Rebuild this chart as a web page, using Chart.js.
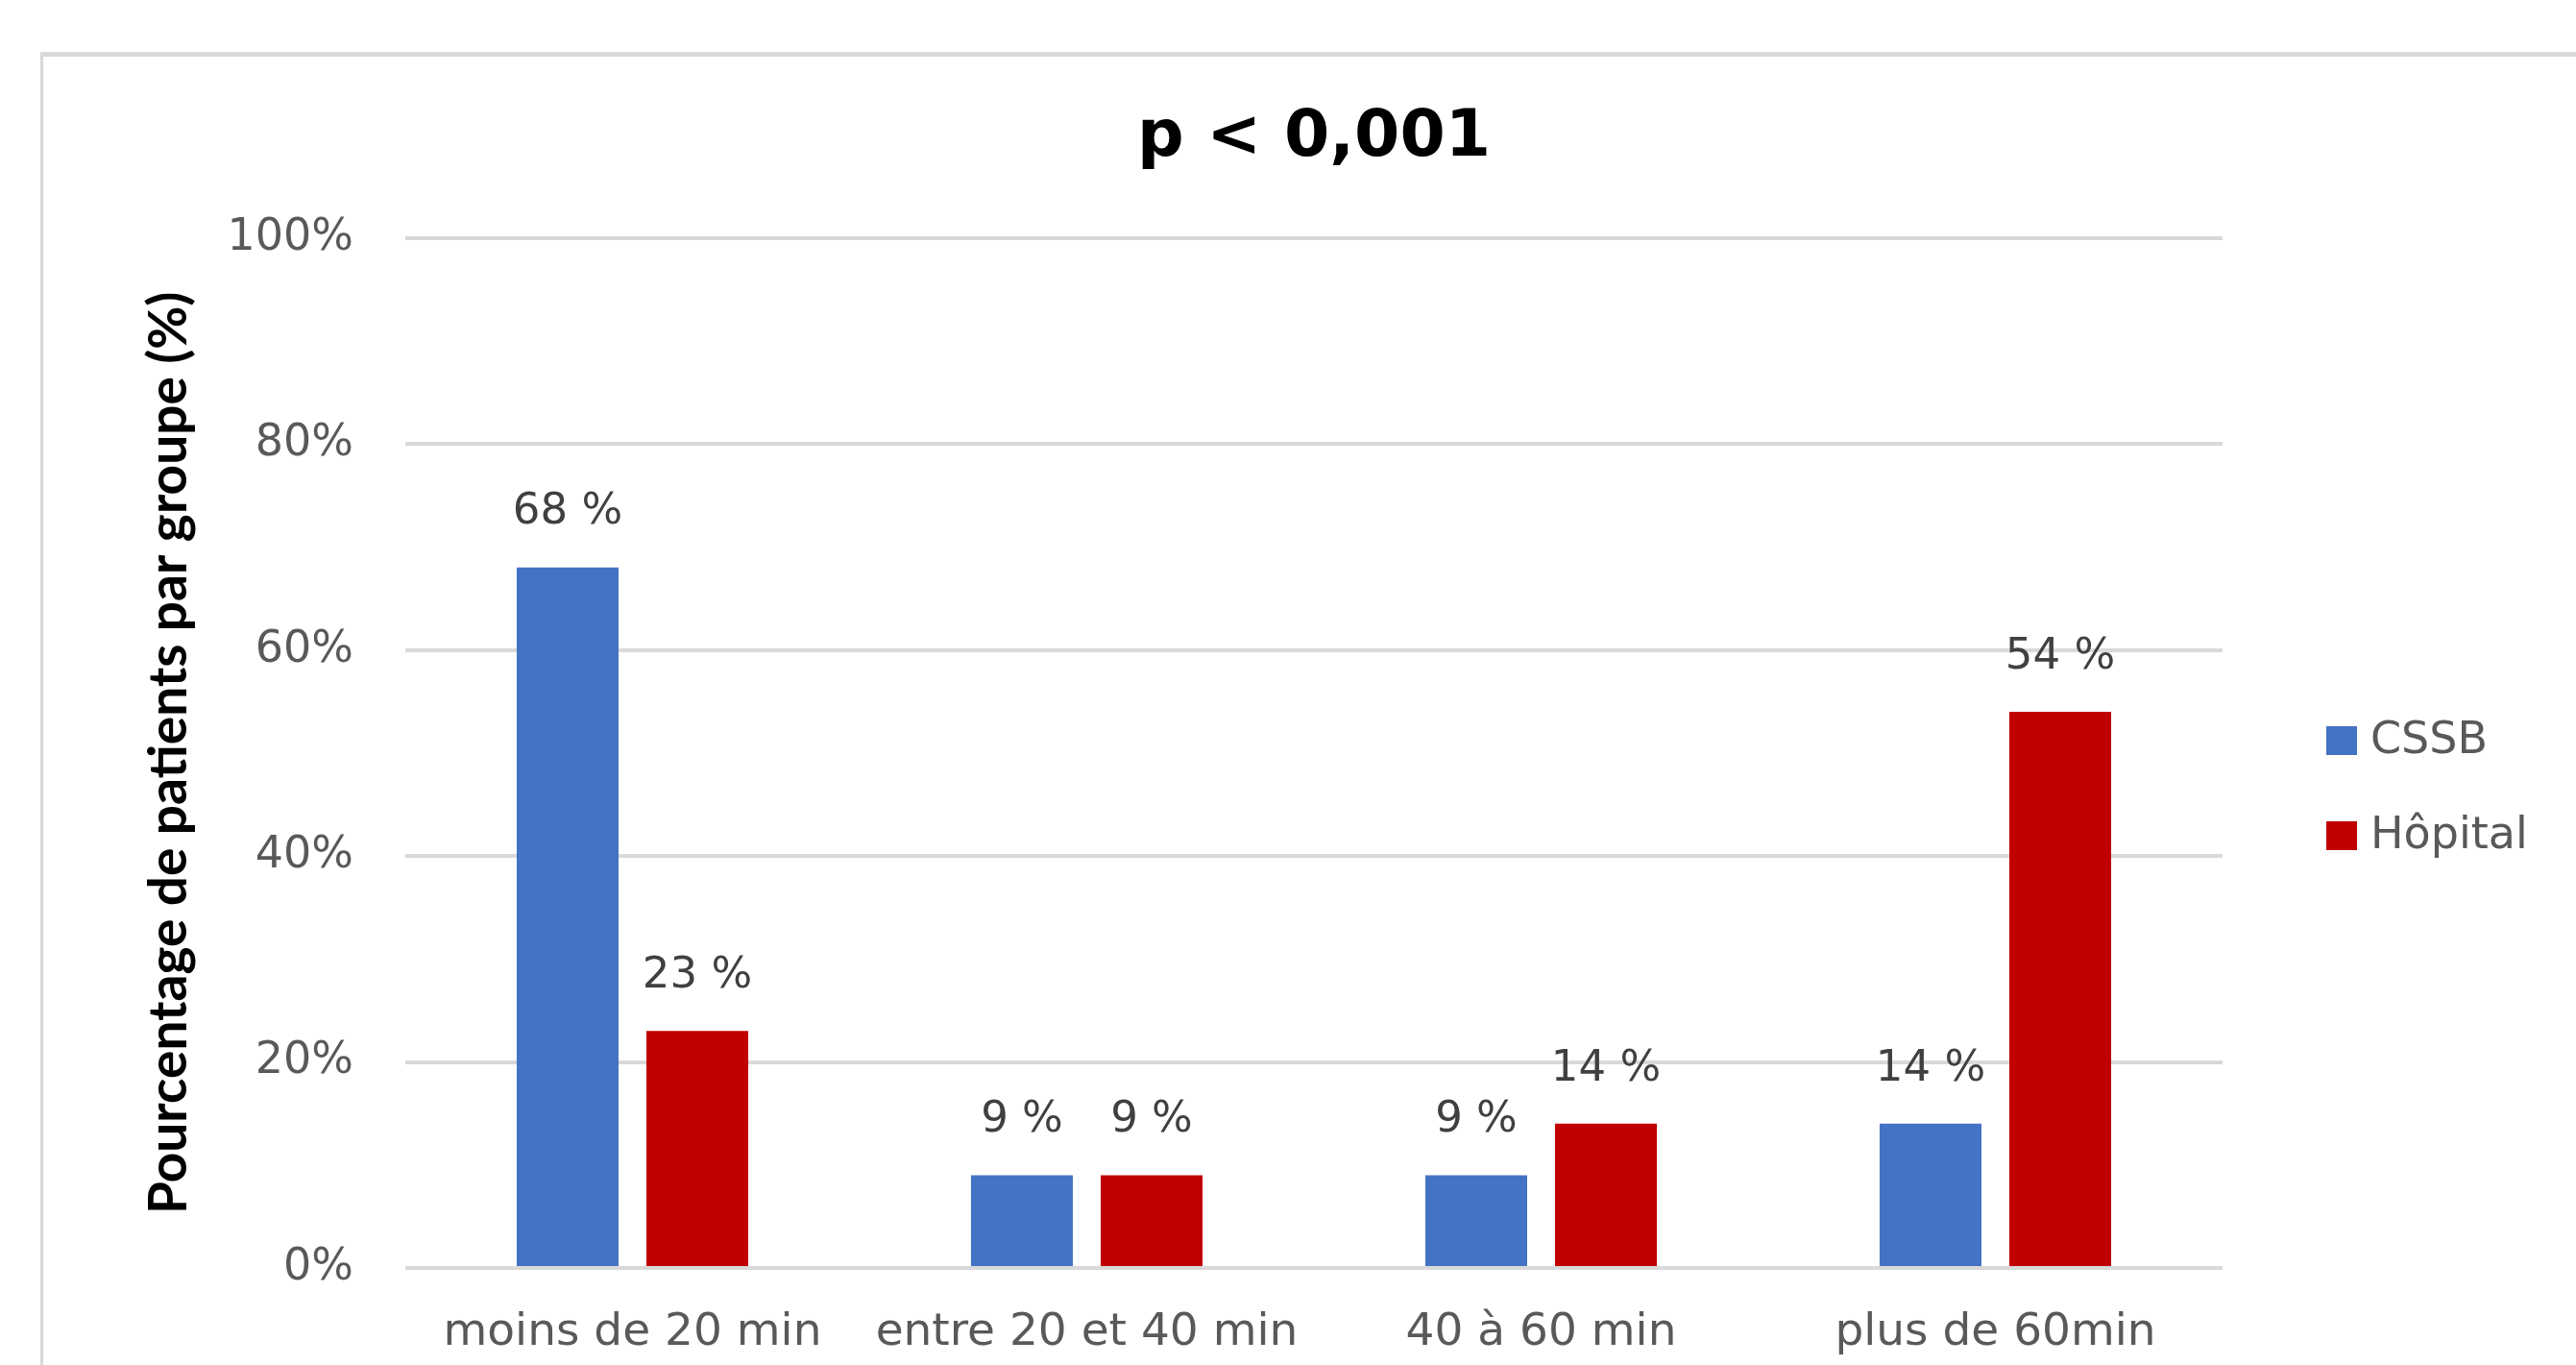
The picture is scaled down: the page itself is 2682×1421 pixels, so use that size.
<!DOCTYPE html>
<html lang="fr">
<head>
<meta charset="utf-8">
<title>Délai d'accès aux soins par groupe</title>
<script src="https://cdn.jsdelivr.net/npm/chart.js@4.4.1/dist/chart.umd.min.js"></script>
<style>
  html, body { margin: 0; padding: 0; background: #ffffff; overflow: hidden; }
  #frame {
    position: absolute; left: 42px; top: 54px; width: 3000px; height: 3000px;
    border-top: 5px solid #d9d9d9; border-left: 3px solid #d9d9d9;
  }
  #chart { position: absolute; left: 0; top: 0; }
</style>
</head>
<body>
<div id="frame"></div>
<canvas id="chart" width="2682" height="1421"></canvas>
<script>
// Délai d'accès, par tranche de temps
const categories = ['moins de 20 min', 'entre 20 et 40 min', '40 à 60 min', 'plus de 60min'];
const seriesNames = ['CSSB', 'Hôpital'];
const cssbValues = [68, 9, 9, 14];
const hopitalValues = [23, 9, 14, 54];
const seriesColors = ['#4472C4', '#C00000'];
const chartTitle = 'p < 0,001';
const yAxisTitle = 'Pourcentage de patients par groupe (%)';

// Value labels above each bar, e.g. "68 %"
const barValueLabels = {
  id: 'barValueLabels',
  afterDatasetsDraw(chart) {
    const ctx = chart.ctx;
    ctx.save();
    ctx.font = '45px "DejaVu Sans"';
    ctx.fillStyle = '#404040';
    ctx.textAlign = 'center';
    ctx.textBaseline = 'middle';
    chart.data.datasets.forEach((ds, i) => {
      chart.getDatasetMeta(i).data.forEach((bar, j) => {
        ctx.fillText(ds.data[j] + ' %', bar.x, bar.y - 57);
      });
    });
    ctx.restore();
  }
};

// Vertical legend on the right of the plot
const sideLegend = {
  id: 'sideLegend',
  afterDraw(chart) {
    const ctx = chart.ctx;
    const area = chart.chartArea;
    const x0 = area.right + 108;
    const rowY = [771, 870];
    ctx.save();
    ctx.font = '46px "DejaVu Sans"';
    ctx.textAlign = 'left';
    ctx.textBaseline = 'middle';
    chart.data.datasets.forEach((ds, i) => {
      const y = rowY[i];
      ctx.fillStyle = ds.backgroundColor;
      ctx.fillRect(x0, y - 15, 32, 30);
      ctx.fillStyle = '#595959';
      ctx.fillText(ds.label, x0 + 46, y + 1);
    });
    ctx.restore();
  }
};

new Chart(document.getElementById('chart'), {
  type: 'bar',
  data: {
    labels: categories,
    datasets: [
      { label: seriesNames[0], data: cssbValues, backgroundColor: seriesColors[0] },
      { label: seriesNames[1], data: hopitalValues, backgroundColor: seriesColors[1] }
    ]
  },
  options: {
    responsive: false,
    animation: false,
    devicePixelRatio: 1,
    categoryPercentage: 0.571,
    barPercentage: 0.785,
    layout: { padding: { left: 43, top: 56, right: 368, bottom: 0 } },
    plugins: {
      legend: { display: false },
      tooltip: { enabled: false },
      title: {
        display: true,
        text: chartTitle,
        fullSize: false,
        color: '#000000',
        font: { family: '"DejaVu Sans"', size: 68, weight: 'bold' },
        padding: { top: 48, bottom: 62 }
      }
    },
    scales: {
      x: {
        grid: { display: false, drawTicks: false },
        border: { display: false },
        ticks: {
          color: '#595959',
          font: { family: '"DejaVu Sans"', size: 47 },
          padding: 40,
          maxRotation: 0,
          autoSkip: false
        },
        afterFit(scale) { scale.height = 101; }
      },
      y: {
        min: 0,
        max: 100,
        ticks: {
          stepSize: 20,
          color: '#595959',
          font: { family: '"DejaVu Sans"', size: 46 },
          padding: 54,
          callback: (v) => v + '%'
        },
        grid: { color: '#d9d9d9', lineWidth: 4, drawTicks: false },
        border: { display: false },
        title: {
          display: true,
          text: yAxisTitle,
          color: '#000000',
          font: { family: 'Lato', size: 55, weight: 'bold' },
          padding: { top: 100, bottom: 0 }
        },
        afterFit(scale) { scale.width = 379; }
      }
    }
  },
  plugins: [barValueLabels, sideLegend]
});
</script>
</body>
</html>
